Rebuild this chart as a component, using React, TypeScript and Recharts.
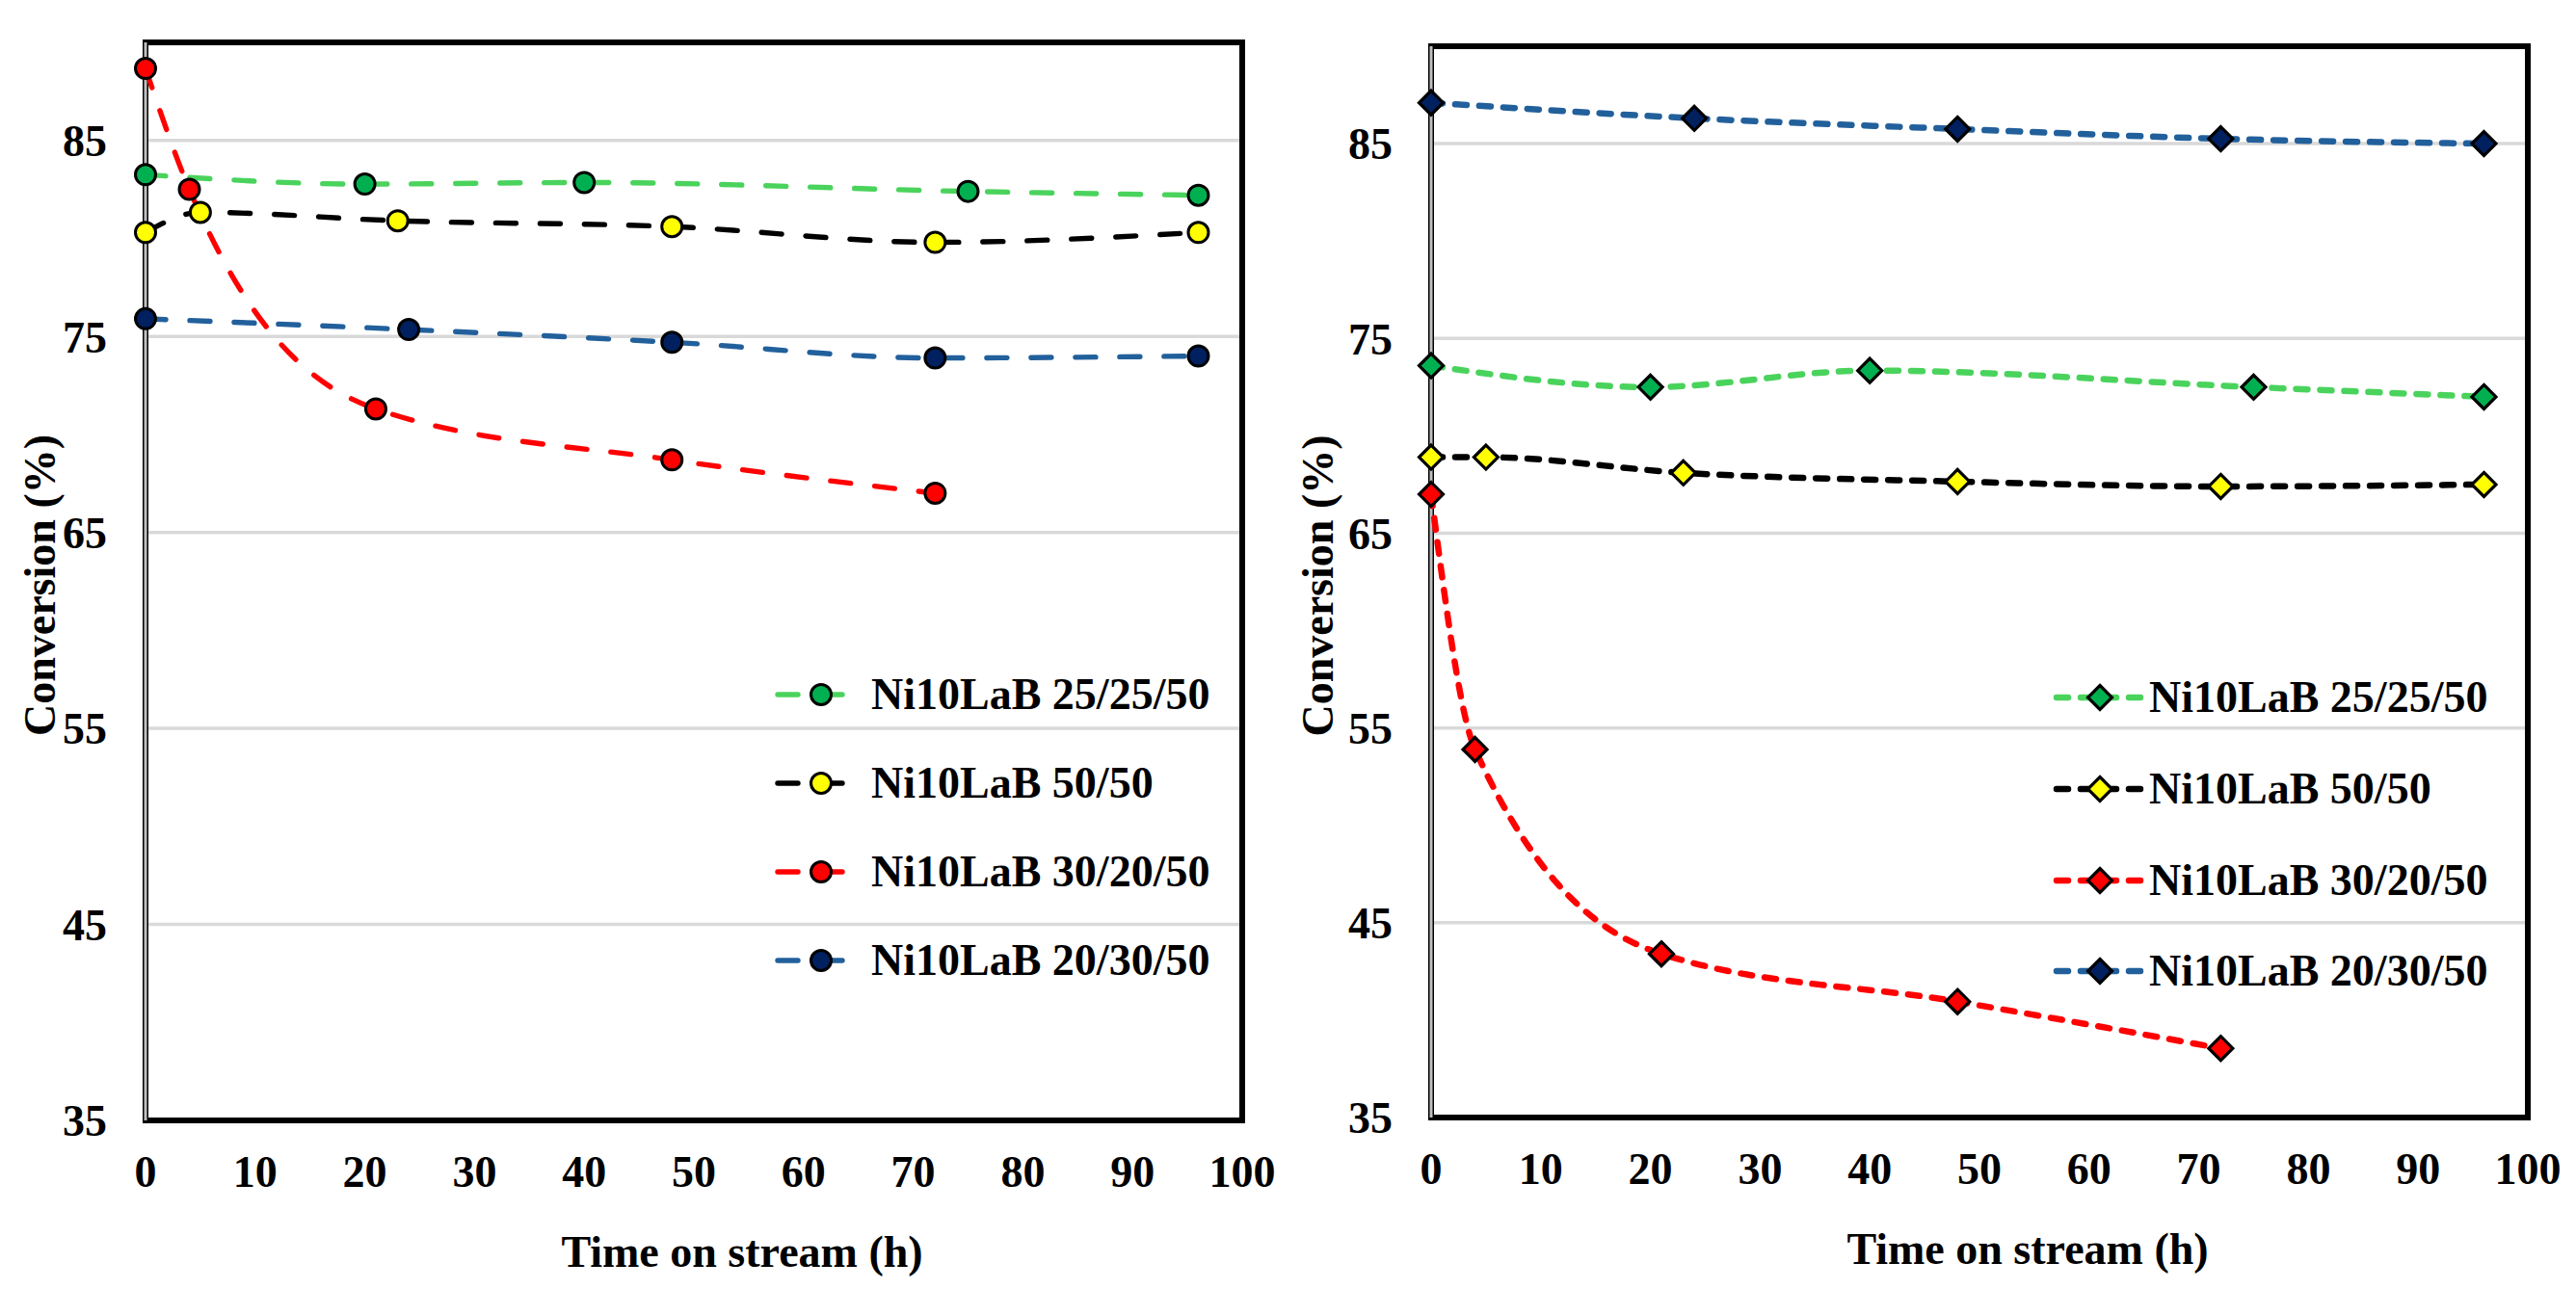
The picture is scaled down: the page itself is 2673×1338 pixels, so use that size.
import React from 'react';
import { LineChart, Line, XAxis, YAxis, CartesianGrid, ReferenceArea, ReferenceLine, Legend } from 'recharts';

// series names, in legend order
const seriesNames = ['Ni10LaB 25/25/50', 'Ni10LaB 50/50', 'Ni10LaB 30/20/50', 'Ni10LaB 20/30/50'];

// sampling times (h) per series
const timesGreen = [0, 20, 40, 75, 96];
const timesBlack = [0, 5, 23, 48, 72, 96];
const timesRed = [0, 4, 21, 48, 72];
const timesBlue = [0, 24, 48, 72, 96];

// left panel, conversion (%)
const leftGreen = [83.25, 82.77, 82.85, 82.4, 82.2];
const leftBlack = [80.3, 81.33, 80.9, 80.6, 79.8, 80.3];
const leftRed = [88.67, 82.5, 71.3, 68.7, 67.0];
const leftBlue = [75.9, 75.35, 74.7, 73.9, 74.0];

// right panel, conversion (%)
const rightGreen = [73.6, 72.5, 73.35, 72.5, 72.0];
const rightBlack = [68.9, 68.9, 68.1, 67.65, 67.4, 67.5];
const rightRed = [67.0, 53.9, 43.4, 40.95, 38.55];
const rightBlue = [87.1, 86.3, 85.75, 85.25, 85.0];

const xTicks = [0, 10, 20, 30, 40, 50, 60, 70, 80, 90, 100];
const yTicks = [35, 45, 55, 65, 75, 85];

const FONT = '"Liberation Serif", "Times New Roman", serif';
const lineColors = ['#4AD35C', '#000000', '#FF0000', '#22609C'];
const markerColors = ['#00B050', '#FFFF00', '#FF0000', '#002060'];

const toPoints = (times: number[], vals: number[]) => times.map((t, i) => ({ t, v: vals[i] }));

const drawMarker = (kind: string, cx: number, cy: number, fill: string, key?: string) => {
  if (kind === 'circle') {
    return <circle key={key} cx={cx} cy={cy} r={10.5} fill={fill} stroke="#000" strokeWidth={3} />;
  }
  const d = 12.5;
  return (
    <path
      key={key}
      d={`M${cx},${cy - d}L${cx + d},${cy}L${cx},${cy + d}L${cx - d},${cy}Z`}
      fill={fill}
      stroke="#000"
      strokeWidth={3.2}
      strokeLinejoin="miter"
    />
  );
};

// titles take their own anchor props, so the label props recharts adds do not move them
const YTitle = ({ ax, ay }: { ax: number; ay: number }) => (
  <text x={ax} y={ay} transform={`rotate(-90 ${ax} ${ay})`} textAnchor="middle" fontFamily={FONT} fontWeight={700} fontSize={46} fill="#000">
    Conversion (%)
  </text>
);

const XTitle = ({ ax, ay }: { ax: number; ay: number }) => (
  <text x={ax} y={ay} textAnchor="middle" fontFamily={FONT} fontWeight={700} fontSize={46} fill="#000">
    Time on stream (h)
  </text>
);

interface PanelProps {
  width: number;
  height: number;
  top: number;
  right: number;
  yWidth: number;
  xHeight: number;
  yTitleX: number;
  marker: string;
  dash: string;
  lineWidth: number;
  values: number[][];
  legend: { left: number; top: number; rows: number[]; x1: number; x2: number; mx: number; tx: number };
}

const Panel = ({ width, height, top, right, yWidth, xHeight, yTitleX, marker, dash, lineWidth, values, legend }: PanelProps) => {
  const times = [timesGreen, timesBlack, timesRed, timesBlue];
  const plotBottom = height - xHeight;
  const plotCenterX = yWidth + (width - right - yWidth) / 2;
  const tickStyle = { fontSize: 46, fontFamily: FONT, fontWeight: 700, fill: '#000' };

  const renderLegend = () => (
    <svg width={540} height={380} style={{ overflow: 'visible' }}>
      {seriesNames.map((name, i) => {
        const y = legend.rows[i];
        return (
          <g key={name}>
            <line
              x1={legend.x1}
              x2={legend.x2}
              y1={y}
              y2={y}
              stroke={lineColors[i]}
              strokeWidth={lineWidth}
              strokeDasharray={dash}
              strokeLinecap="round"
            />
            {drawMarker(marker, legend.mx, y, markerColors[i])}
            <text x={legend.tx} y={y + 15} fontFamily={FONT} fontWeight={700} fontSize={46} fill="#000">
              {name}
            </text>
          </g>
        );
      })}
    </svg>
  );

  return (
    <LineChart width={width} height={height} margin={{ top, right, bottom: 0, left: 0 }}>
      <CartesianGrid vertical={false} stroke="#D9D9D9" strokeWidth={3.5} />
      <XAxis
        type="number"
        dataKey="t"
        domain={[0, 100]}
        ticks={xTicks}
        interval={0}
        height={xHeight}
        axisLine={false}
        tickLine={false}
        tickSize={0}
        tickMargin={36}
        tick={tickStyle}
        label={<XTitle ax={plotCenterX + 50} ay={plotBottom + 152} />}
      />
      <YAxis
        type="number"
        domain={[35, 90]}
        ticks={yTicks}
        interval={0}
        width={yWidth}
        axisLine={false}
        tickLine={false}
        tickSize={0}
        tickMargin={40}
        tick={tickStyle}
        label={<YTitle ax={yTitleX} ay={(top + plotBottom) / 2 + 4} />}
      />
      <ReferenceArea x1={0} x2={100} y1={35} y2={90} fill="none" stroke="#000" strokeWidth={6} ifOverflow="visible" />
      <ReferenceLine x={0} stroke="#BFBFBF" strokeWidth={3} ifOverflow="visible" />
      {seriesNames.map((name, i) => (
        <Line
          key={name}
          name={name}
          data={toPoints(times[i], values[i])}
          dataKey="v"
          type="monotone"
          stroke={lineColors[i]}
          strokeWidth={lineWidth}
          strokeDasharray={dash}
          strokeLinecap="round"
          dot={(p: any) => drawMarker(marker, p.cx, p.cy, markerColors[i], `${name}-${p.index}`)}
          activeDot={false}
          isAnimationActive={false}
        />
      ))}
      <Legend
        layout="vertical"
        align="center"
        verticalAlign="middle"
        wrapperStyle={{ left: legend.left, top: legend.top, width: 540, height: 380 }}
        content={renderLegend}
      />
    </LineChart>
  );
};

const App = () => (
  <div style={{ margin: -8, width: 2673, height: 1338, overflow: 'hidden', display: 'flex', background: '#fff' }}>
    <Panel
      width={1336}
      height={1338}
      top={44}
      right={47}
      yWidth={151}
      xHeight={175}
      yTitleX={57}
      marker="circle"
      dash="21 25"
      lineWidth={5.4}
      values={[leftGreen, leftBlack, leftRed, leftBlue]}
      legend={{ left: 780, top: 680, rows: [41, 133, 225, 317], x1: 27, x2: 99, mx: 72, tx: 124 }}
    />
    <Panel
      width={1337}
      height={1338}
      top={48}
      right={50}
      yWidth={149}
      xHeight={178}
      yTitleX={47}
      marker="diamond"
      dash="12 13"
      lineWidth={6.5}
      values={[rightGreen, rightBlack, rightRed, rightBlue]}
      legend={{ left: 780, top: 680, rows: [44, 139, 234, 328], x1: 18, x2: 108, mx: 63, tx: 114 }}
    />
  </div>
);

export default App;
